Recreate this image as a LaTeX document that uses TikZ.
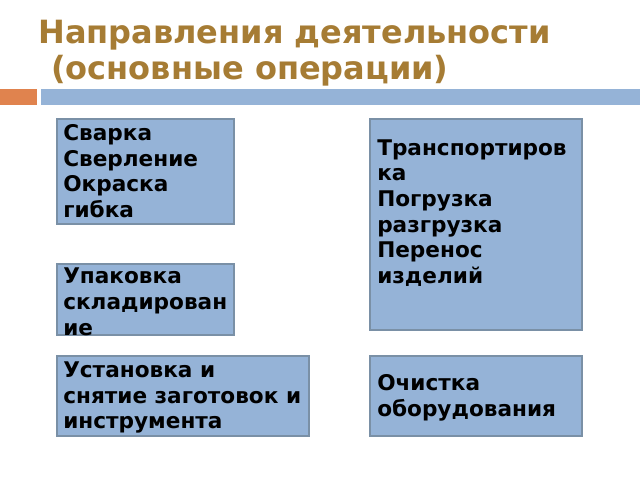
\documentclass[tikz,border=0pt]{standalone}
\usepackage{fontspec}
\setmainfont{DejaVu Sans}
\definecolor{titlecol}{HTML}{A67C34}
\definecolor{boxfill}{HTML}{95B3D7}
\definecolor{boxline}{HTML}{7A90A6}
\definecolor{barorange}{HTML}{E0834E}
\definecolor{barblue}{HTML}{95B3D7}
\begin{document}
\begin{tikzpicture}[x=0.75pt,y=-0.75pt]
\tikzset{
  panel/.style={draw=boxline, line width=0.9pt, fill=boxfill, rectangle, inner sep=0pt},
  paneltext/.style={anchor=west, inner sep=0pt, align=left, font=\bfseries\fontsize{16.2}{19.3}\selectfont, text=black},
  bar/.style={draw=none, rectangle, inner sep=0pt},
  titletext/.style={anchor=base west, inner sep=0pt, text=titlecol, font=\bfseries\fontsize{24}{28}\selectfont},
}
\useasboundingbox (0,0) rectangle (640,480);
\fill[white] (0,0) rectangle (640,480);
% title
\node[titletext] (title1) at (38,43) {Направления деятельности};
\node[titletext] (title2) at (51,79) {(основные операции)};
% bars
\node[bar, fill=barorange, minimum width=37*0.75pt, minimum height=16*0.75pt, anchor=north west] (barL) at (0,89) {};
\node[bar, fill=barblue, minimum width=599*0.75pt, minimum height=16*0.75pt, anchor=north west] (barR) at (41,89) {};
% boxes
\node[panel, minimum width=177*0.75pt, minimum height=105*0.75pt] (b1) at (145.5,171.5) {};
\node[panel, minimum width=177*0.75pt, minimum height=71*0.75pt] (b2) at (145.5,299.5) {};
\node[panel, minimum width=252*0.75pt, minimum height=80*0.75pt] (b3) at (183,396) {};
\node[panel, minimum width=212*0.75pt, minimum height=211*0.75pt] (b4) at (476,224.5) {};
\node[panel, minimum width=212*0.75pt, minimum height=80*0.75pt] (b5) at (476,396) {};
% texts
\node[paneltext] (t1) at (63,171) {Сварка\\Сверление\\Окраска\\гибка};
\node[paneltext] (t2) at (63,302) {Упаковка\\складирован\\ие};
\node[paneltext] (t3) at (63,397.5) {Установка и\\снятие заготовок и\\инструмента};
\node[paneltext] (t4) at (377,213) {Транспортиров\\ка\\Погрузка\\разгрузка\\Перенос\\изделий};
\node[paneltext] (t5) at (377,398) {Очистка\\оборудования};
\end{tikzpicture}
\end{document}
